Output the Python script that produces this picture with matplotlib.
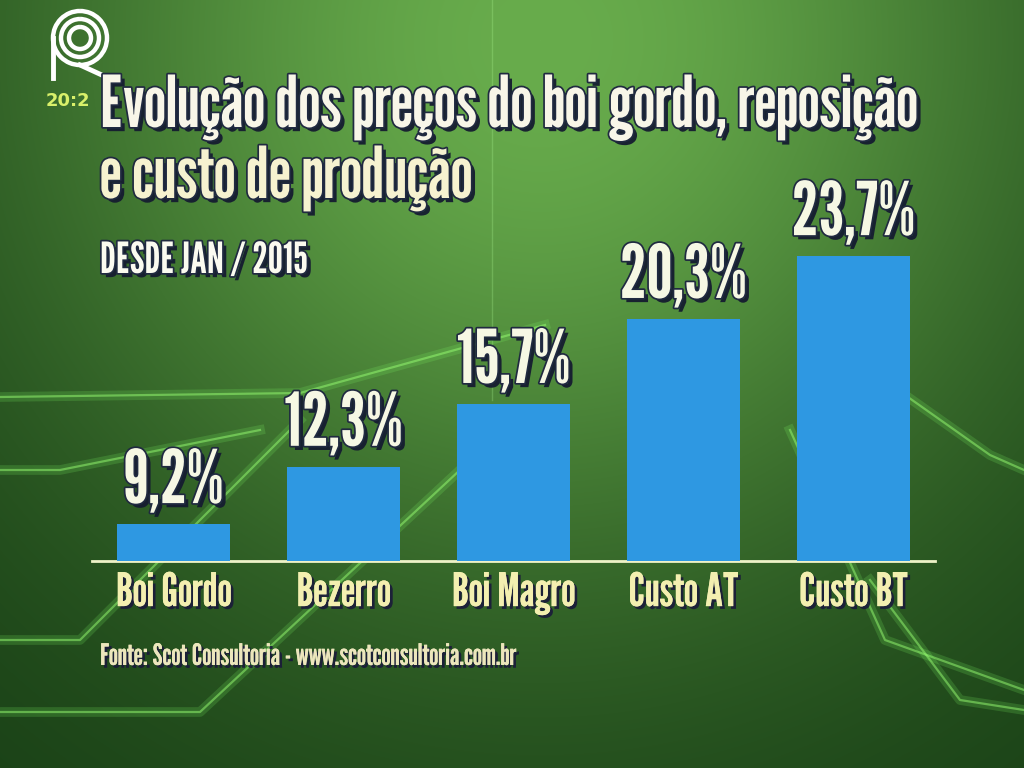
import numpy as np
import matplotlib
matplotlib.use("Agg")
import matplotlib.pyplot as plt
import matplotlib.patheffects as pe
from matplotlib.patches import Arc

# ---- data ----
categories = ["Boi Gordo", "Bezerro", "Boi Magro", "Custo AT", "Custo BT"]
values = [9.2, 12.3, 15.7, 20.3, 23.7]
value_labels = ["9,2%", "12,3%", "15,7%", "20,3%", "23,7%"]
title_line1 = "Evolução dos preços do boi gordo, reposição"
title_line2 = "e custo de produção"
subtitle = "DESDE JAN / 2015"
source = "Fonte: Scot Consultoria - www.scotconsultoria.com.br"

FONT = ["League Gothic", "DejaVu Sans"]
W, H = 1024, 768
fig = plt.figure(figsize=(W / 100, H / 100), dpi=100)


def fit_width(t, target_px):
    fig.canvas.draw()
    w = t.get_window_extent().width
    t.set_fontsize(t.get_fontsize() * target_px / w)


# ---- background gradient ----
bg = fig.add_axes([0, 0, 1, 1])
yy, xx = np.mgrid[0:H, 0:W]
f = np.exp(-((xx - 540) / 540.0) ** 2 - ((yy - 40) / 560.0) ** 2)
dark = np.array([22, 60, 20]) / 255
light = np.array([104, 172, 76]) / 255
img = dark[None, None, :] + (light - dark)[None, None, :] * f[..., None]
bg.imshow(img, extent=[0, W, H, 0], aspect="auto", zorder=0)
bg.set_xlim(0, W)
bg.set_ylim(H, 0)
bg.axis("off")

# decorative neon lines (pixel coords)
glow = [pe.Stroke(linewidth=7, foreground=(0.5, 1, 0.4, 0.18)), pe.Normal()]
deco = [
    ([0, 300, 545], [397, 393, 325]),
    ([905, 990, 1024], [395, 455, 470]),
    ([0, 200, 460], [712, 712, 470]),
    ([0, 80, 300], [640, 640, 420]),
    ([790, 885, 1024], [430, 640, 690]),
    ([870, 960, 1024], [580, 700, 710]),
    ([0, 60, 260], [470, 470, 430]),
]
for xs, ys in deco:
    bg.plot(xs, ys, color=(0.6, 1.0, 0.45), lw=1.6, alpha=0.5, zorder=1,
            path_effects=glow)
bg.plot([492, 492], [0, 400], color=(0.7, 1, 0.6), lw=1, alpha=0.25, zorder=1)

# logo
for r in [27, 19, 11]:
    bg.add_patch(Arc((80, 38), 2 * r, 2 * r, theta1=-90, theta2=270,
                     color="white", lw=3.2, zorder=3))
bg.plot([53, 53], [38, 78], color="white", lw=3.5, zorder=3)
bg.plot([80, 104], [65, 76], color="white", lw=3.5, zorder=3)
bg.text(46, 101, "20:2", color="#d9f06a", fontsize=13, fontweight="bold",
        family=["DejaVu Sans"], va="center", ha="left", zorder=3)

# ---- main chart axes ----
ax_left = 92 / W
ax_bottom = 1 - 561 / H
ax_height = (561 - 150) / H
ax_width = (935 - 92) / W
ax = fig.add_axes([ax_left, ax_bottom, ax_width, ax_height])
ax.patch.set_alpha(0)
x = np.arange(len(categories))
ymin = 7.2
ax.bar(x, np.array(values) - ymin, bottom=ymin, width=0.66, color="#2e98e2",
       zorder=3)
ax.set_xlim(-0.48, len(categories) - 0.52)
ax.set_ylim(ymin, ymin + 411 / 18.48)
for s in ["top", "right", "left"]:
    ax.spines[s].set_visible(False)
ax.spines["bottom"].set_color("#eef3c8")
ax.spines["bottom"].set_linewidth(2)
ax.set_yticks([])
ax.set_xticks(x)
ax.set_xticklabels(categories)
ax.tick_params(axis="x", length=0, pad=8)
small_fx = [pe.withSimplePatchShadow(offset=(2, -2), shadow_rgbFace="#1a1a3a", alpha=0.9), pe.Normal()]
for lab in ax.get_xticklabels():
    lab.set_family(FONT)
    lab.set_fontsize(26)
    lab.set_color("#f3efb0")
    lab.set_path_effects(small_fx)
fit_width(ax.get_xticklabels()[0], 116)
fs_cat = ax.get_xticklabels()[0].get_fontsize()
for lab in ax.get_xticklabels():
    lab.set_fontsize(fs_cat)

val_fx = [pe.withSimplePatchShadow(offset=(3, -3), shadow_rgbFace="#151c30", alpha=0.95),
          pe.withStroke(linewidth=2.5, foreground="#202a40")]
val_texts = []
for xi, v, t in zip(x, values, value_labels):
    val_texts.append(ax.annotate(t, (xi, v), xytext=(0, 5), textcoords="offset points",
                                 ha="center", va="bottom", fontsize=40,
                                 family=FONT, color="#f6f8e4", path_effects=val_fx,
                                 zorder=5))
fit_width(val_texts[-1], 124)
for t in val_texts:
    t.set_fontsize(val_texts[-1].get_fontsize())

# ---- titles ----
title_fx = [pe.withSimplePatchShadow(offset=(3, -3), shadow_rgbFace="#151c30", alpha=0.95),
            pe.withStroke(linewidth=2.5, foreground="#202a40")]
t1 = fig.text(100 / W, 1 - 127 / H, title_line1, fontsize=60,
              family=FONT, color="#f8f6e8", ha="left", va="baseline",
              path_effects=title_fx)
fit_width(t1, 817)
t2 = fig.text(100 / W, 1 - 198 / H, title_line2, fontsize=t1.get_fontsize(),
              family=FONT, color="#f6f2d0", ha="left", va="baseline",
              path_effects=title_fx)
st = fig.text(100 / W, 1 - 273 / H, subtitle, fontsize=36,
              family=FONT, color="#fbfbf0", ha="left", va="baseline",
              path_effects=title_fx)
fit_width(st, 208)
src = fig.text(100 / W, 1 - 665 / H, source, fontsize=20,
               family=FONT, color="#ece6bc", ha="left", va="baseline",
               path_effects=small_fx)
fit_width(src, 415)

fig.savefig("out.png", dpi=100)
